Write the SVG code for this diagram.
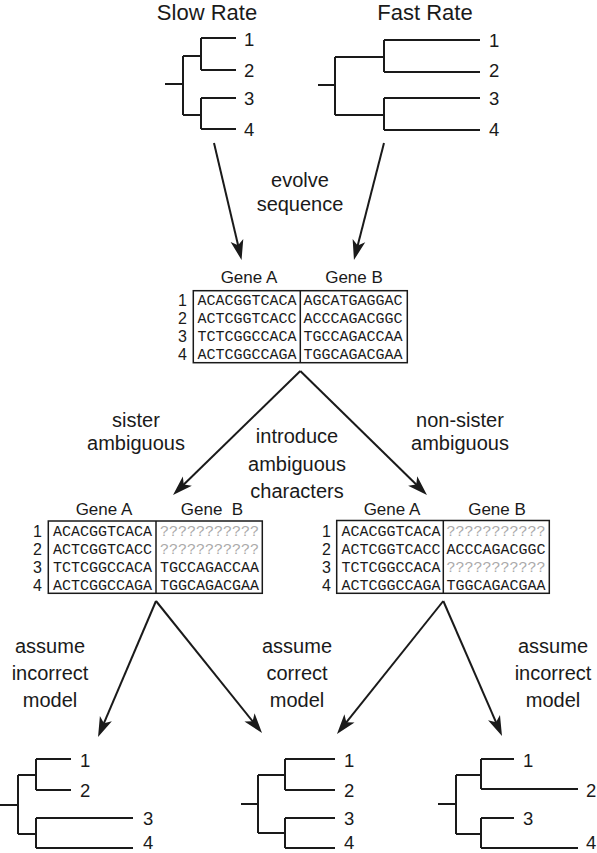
<svg xmlns="http://www.w3.org/2000/svg" width="597" height="853" viewBox="0 0 597 853">
<style>
.t{font-family:"Liberation Sans",Arial,sans-serif;fill:#1a1a1a}
.ttl{font-size:22px;text-anchor:middle}
.lab{font-size:20px;text-anchor:middle}
.gene{font-size:17px;text-anchor:middle}
.leaf{font-size:18.5px}
.rn{font-size:16px;text-anchor:end}
.seq{font-family:"Liberation Mono","Courier New",monospace;font-size:15px;fill:#1a1a1a}
.q{fill:#aaaaaa}
.tree{fill:none;stroke:#1a1a1a;stroke-width:2}
.box{fill:none;stroke:#1a1a1a;stroke-width:1.5}
.arr{stroke:#1a1a1a;stroke-width:2;fill:none;marker-end:url(#ah)}
</style>
<defs>
<marker id="ah" viewBox="-20 -7 20 14" refX="-5" refY="0" markerWidth="20" markerHeight="14" markerUnits="userSpaceOnUse" orient="auto">
<path d="M0,0 L-20,-6.5 L-15,0 L-20,6.5 Z" fill="#1a1a1a"/>
</marker>
</defs>

<g id="title-slow"><text class="t ttl" x="207" y="20">Slow Rate</text></g>
<g id="title-fast"><text class="t ttl" x="425" y="20">Fast Rate</text></g>

<g id="tree-slow">
<path class="tree" d="M165,84H183 M183,56V115 M183,56H201 M183,115H201 M201,38V70 M201,38H236 M201,70H236 M201,98V129 M201,98H236 M201,129H236"/>
<text class="t leaf" x="244" y="46">1</text>
<text class="t leaf" x="244" y="77">2</text>
<text class="t leaf" x="244" y="105">3</text>
<text class="t leaf" x="244" y="136">4</text>
</g>

<g id="tree-fast">
<path class="tree" d="M318,85H335 M335,57V115 M335,57H384 M335,115H384 M384,40V72 M384,40H480 M384,72H480 M384,98V130 M384,98H480 M384,130H480"/>
<text class="t leaf" x="489" y="47">1</text>
<text class="t leaf" x="489" y="77">2</text>
<text class="t leaf" x="489" y="105">3</text>
<text class="t leaf" x="489" y="136">4</text>
</g>

<g id="label-evolve">
<text class="t lab" x="300" y="187">evolve</text>
<text class="t lab" x="300" y="211">sequence</text>
</g>

<g id="align-original">
<text class="t gene" x="249" y="283">Gene A</text>
<text class="t gene" x="354" y="283">Gene B</text>
<rect class="box" x="193.3" y="290.7" width="214" height="72"/>
<line class="box" x1="300.3" y1="290.7" x2="300.3" y2="362.7"/>
<text class="t rn" x="187" y="306">1</text>
<text class="t rn" x="187" y="324">2</text>
<text class="t rn" x="187" y="342">3</text>
<text class="t rn" x="187" y="360">4</text>
<text class="seq" x="197.5" y="305">ACACGGTCACA</text>
<text class="seq" x="197.5" y="323">ACTCGGTCACC</text>
<text class="seq" x="197.5" y="341">TCTCGGCCACA</text>
<text class="seq" x="197.5" y="359">ACTCGGCCAGA</text>
<text class="seq" x="303.5" y="305">AGCATGAGGAC</text>
<text class="seq" x="303.5" y="323">ACCCAGACGGC</text>
<text class="seq" x="303.5" y="341">TGCCAGACCAA</text>
<text class="seq" x="303.5" y="359">TGGCAGACGAA</text>
</g>

<g id="label-sister">
<text class="t lab" x="136" y="427">sister</text>
<text class="t lab" x="136" y="450">ambiguous</text>
</g>
<g id="label-introduce">
<text class="t lab" x="297" y="443">introduce</text>
<text class="t lab" x="297" y="471">ambiguous</text>
<text class="t lab" x="297" y="498">characters</text>
</g>
<g id="label-nonsister">
<text class="t lab" x="460" y="427">non-sister</text>
<text class="t lab" x="460" y="450">ambiguous</text>
</g>

<g id="align-sister">
<text class="t gene" x="104" y="515">Gene A</text>
<text class="t gene" x="212" y="515" xml:space="preserve">Gene  B</text>
<rect class="box" x="48.3" y="521" width="214" height="72.3"/>
<line class="box" x1="156" y1="521" x2="156" y2="593.3"/>
<text class="t rn" x="42" y="537">1</text>
<text class="t rn" x="42" y="555">2</text>
<text class="t rn" x="42" y="573">3</text>
<text class="t rn" x="42" y="591">4</text>
<text class="seq" x="53" y="536">ACACGGTCACA</text>
<text class="seq" x="53" y="554">ACTCGGTCACC</text>
<text class="seq" x="53" y="572">TCTCGGCCACA</text>
<text class="seq" x="53" y="590">ACTCGGCCAGA</text>
<text class="seq q" x="160" y="536">???????????</text>
<text class="seq q" x="160" y="554">???????????</text>
<text class="seq" x="160" y="572">TGCCAGACCAA</text>
<text class="seq" x="160" y="590">TGGCAGACGAA</text>
</g>

<g id="align-nonsister">
<text class="t gene" x="392" y="515">Gene A</text>
<text class="t gene" x="497" y="515">Gene B</text>
<rect class="box" x="336.7" y="520.5" width="212.6" height="72.8"/>
<line class="box" x1="443.3" y1="520.5" x2="443.3" y2="593.3"/>
<text class="t rn" x="331" y="537">1</text>
<text class="t rn" x="331" y="555">2</text>
<text class="t rn" x="331" y="573">3</text>
<text class="t rn" x="331" y="591">4</text>
<text class="seq" x="341.5" y="536">ACACGGTCACA</text>
<text class="seq" x="341.5" y="554">ACTCGGTCACC</text>
<text class="seq" x="341.5" y="572">TCTCGGCCACA</text>
<text class="seq" x="341.5" y="590">ACTCGGCCAGA</text>
<text class="seq q" x="446.5" y="536">???????????</text>
<text class="seq" x="446.5" y="554">ACCCAGACGGC</text>
<text class="seq q" x="446.5" y="572">???????????</text>
<text class="seq" x="446.5" y="590">TGGCAGACGAA</text>
</g>

<g id="label-incorrect-left">
<text class="t lab" x="50" y="653">assume</text>
<text class="t lab" x="50" y="680">incorrect</text>
<text class="t lab" x="50" y="707">model</text>
</g>
<g id="label-correct">
<text class="t lab" x="297" y="653">assume</text>
<text class="t lab" x="297" y="680">correct</text>
<text class="t lab" x="297" y="707">model</text>
</g>
<g id="label-incorrect-right">
<text class="t lab" x="553" y="653">assume</text>
<text class="t lab" x="553" y="680">incorrect</text>
<text class="t lab" x="553" y="707">model</text>
</g>

<g id="tree-left">
<path class="tree" d="M0,805H18 M18,775V834 M18,775H36 M18,834H36 M36,759V790 M36,759H71 M36,790H71 M36,818V848 M36,818H133 M36,848H133"/>
<text class="t leaf" x="80" y="767">1</text>
<text class="t leaf" x="80" y="797">2</text>
<text class="t leaf" x="143" y="825">3</text>
<text class="t leaf" x="143" y="849">4</text>
</g>

<g id="tree-middle">
<path class="tree" d="M241,804H258 M258,775V833 M258,775H285 M258,833H285 M285,759V790 M285,759H335 M285,790H335 M285,818V848 M285,818H335 M285,848H335"/>
<text class="t leaf" x="344" y="767">1</text>
<text class="t leaf" x="344" y="797">2</text>
<text class="t leaf" x="344" y="825">3</text>
<text class="t leaf" x="344" y="849">4</text>
</g>

<g id="tree-right">
<path class="tree" d="M438,804H456 M456,775V834 M456,775H481 M456,834H481 M481,759V789 M481,759H514 M481,789H578 M481,818V848 M481,818H514 M481,848H578"/>
<text class="t leaf" x="523" y="767">1</text>
<text class="t leaf" x="586" y="797">2</text>
<text class="t leaf" x="523" y="825">3</text>
<text class="t leaf" x="586" y="849">4</text>
</g>

<g id="connectors">
<line class="arr" x1="214" y1="143" x2="240.4" y2="255.1"/>
<line class="arr" x1="384" y1="143" x2="355.2" y2="255.2"/>
<line class="arr" x1="300.3" y1="371" x2="176.6" y2="491.5"/>
<line class="arr" x1="300.3" y1="371" x2="423.4" y2="491.5"/>
<line class="arr" x1="156" y1="601" x2="100" y2="732.4"/>
<line class="arr" x1="156" y1="601" x2="258.9" y2="729.1"/>
<line class="arr" x1="443.3" y1="601" x2="340.1" y2="730.1"/>
<line class="arr" x1="443.3" y1="601" x2="500" y2="731.4"/>
</g>
</svg>
